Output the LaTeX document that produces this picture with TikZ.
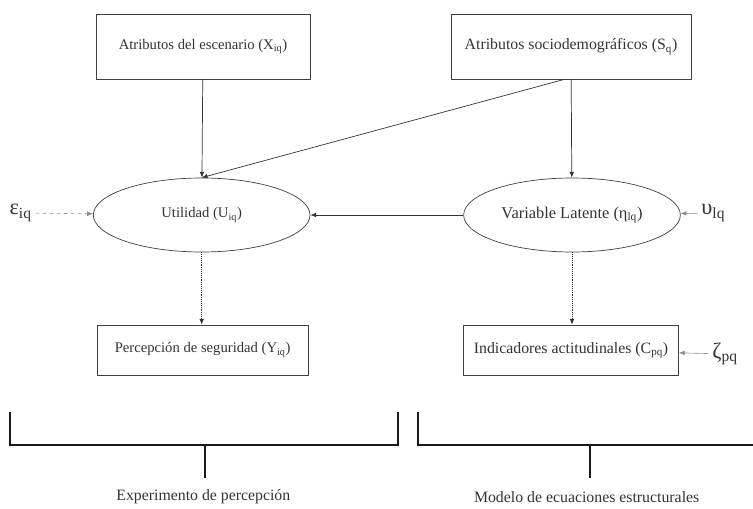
\documentclass[tikz,border=0pt]{standalone}
\usepackage{fontspec}
\setmainfont{Liberation Serif}
\usetikzlibrary{shapes.geometric,arrows.meta}

\begin{document}
\begin{tikzpicture}[
  attr/.style={draw=black!75, line width=0.6pt, minimum width=6.42cm, minimum height=1.95cm, font=\fontsize{12.5}{14}\selectfont, text=black!80},
  outcome/.style={draw=black!75, line width=0.6pt, minimum height=1.5cm, font=\fontsize{12.5}{14}\selectfont, text=black!80},
  latent/.style={ellipse, draw=black!75, line width=0.6pt, minimum width=6.5cm, minimum height=2.22cm, font=\fontsize{12.5}{14}\selectfont, text=black!80},
  err/.style={font=\fontsize{19}{21}\selectfont, text=black!80},
  flow/.style={-{Latex[length=5pt,width=4pt]}, line width=0.6pt, draw=black!80},
  measure/.style={-{Latex[length=5pt,width=4pt]}, line width=0.6pt, draw=black!80, densely dotted},
  noise/.style={-{Latex[length=5pt,width=4pt]}, line width=0.5pt, draw=black!45},
  brace/.style={line width=1.3pt, draw=black!90},
  caption/.style={font=\fontsize{13.5}{15}\selectfont, text=black!80},
  >=stealth
]
  \useasboundingbox (0,0) rectangle (22.59,-15.27);

  \node[attr] (escen) at (6.09,-1.395) {Atributos del escenario (X$_{\mathrm{iq}}$)};
  \node[attr, minimum width=7.2cm, font=\fontsize{13.5}{15}\selectfont] (socio) at (17.13,-1.395) {Atributos sociodemográficos (S$_{\mathrm{q}}$)};
  \node[latent] (util) at (6.05,-6.45) {Utilidad (U$_{\mathrm{iq}}$)};
  \node[latent, font=\fontsize{14}{16}\selectfont] (lat) at (17.16,-6.45) {Variable Latente (η$_{\mathrm{lq}}$)};
  \node[outcome, minimum width=6.33cm] (percep) at (6.08,-10.5) {Percepción de seguridad (Y$_{\mathrm{iq}}$)};
  \node[outcome, minimum width=6.45cm, inner xsep=1pt, font=\fontsize{13.5}{15}\selectfont] (indic) at (17.13,-10.5) {Indicadores actitudinales (C$_{\mathrm{pq}}$)};

  \node[err] (eps) at (0.62,-6.39) {ε$_{\mathrm{iq}}$};
  \node[err] (ups) at (21.4,-6.39) {υ$_{\mathrm{lq}}$};
  \node[err] (zeta) at (21.75,-10.62) {ζ$_{\mathrm{pq}}$};

  \draw[flow] (escen) -- (util);
  \draw[flow] (socio) -- (lat);
  \draw[flow] (socio.south) ++(-0.2,0) -- (util.north);
  \draw[flow] (lat) -- (util);
  \draw[measure] (util.south) -- (util.south |- percep.north);
  \draw[measure] (lat.south) -- (lat.south |- indic.north);

  \draw[noise, dashed] (eps) -- (util);
  \draw[noise] (ups) -- (lat);
  \draw[noise] (zeta) -- (indic);

  % brackets
  \coordinate (l1) at (0.3,-12.36);
  \coordinate (l2) at (11.94,-12.36);
  \coordinate (r1) at (12.54,-12.36);
  \coordinate (r2) at (22.59,-12.36);
  \node[caption] (exper) at (6.1,-14.91) {Experimento de percepción};
  \node[caption] (model) at (17.6,-14.91) {Modelo de ecuaciones estructurales};
  \draw[brace] (l1) -- ++(0,-0.99) -| (l2);
  \draw[brace] (r1) -- ++(0,-0.99) -- (r2 |- 0,-13.35);
  \draw[brace] (6.15,-13.35) -- ++(0,-0.99);
  \draw[brace] (17.7,-13.35) -- ++(0,-0.99);
\end{tikzpicture}
\end{document}
